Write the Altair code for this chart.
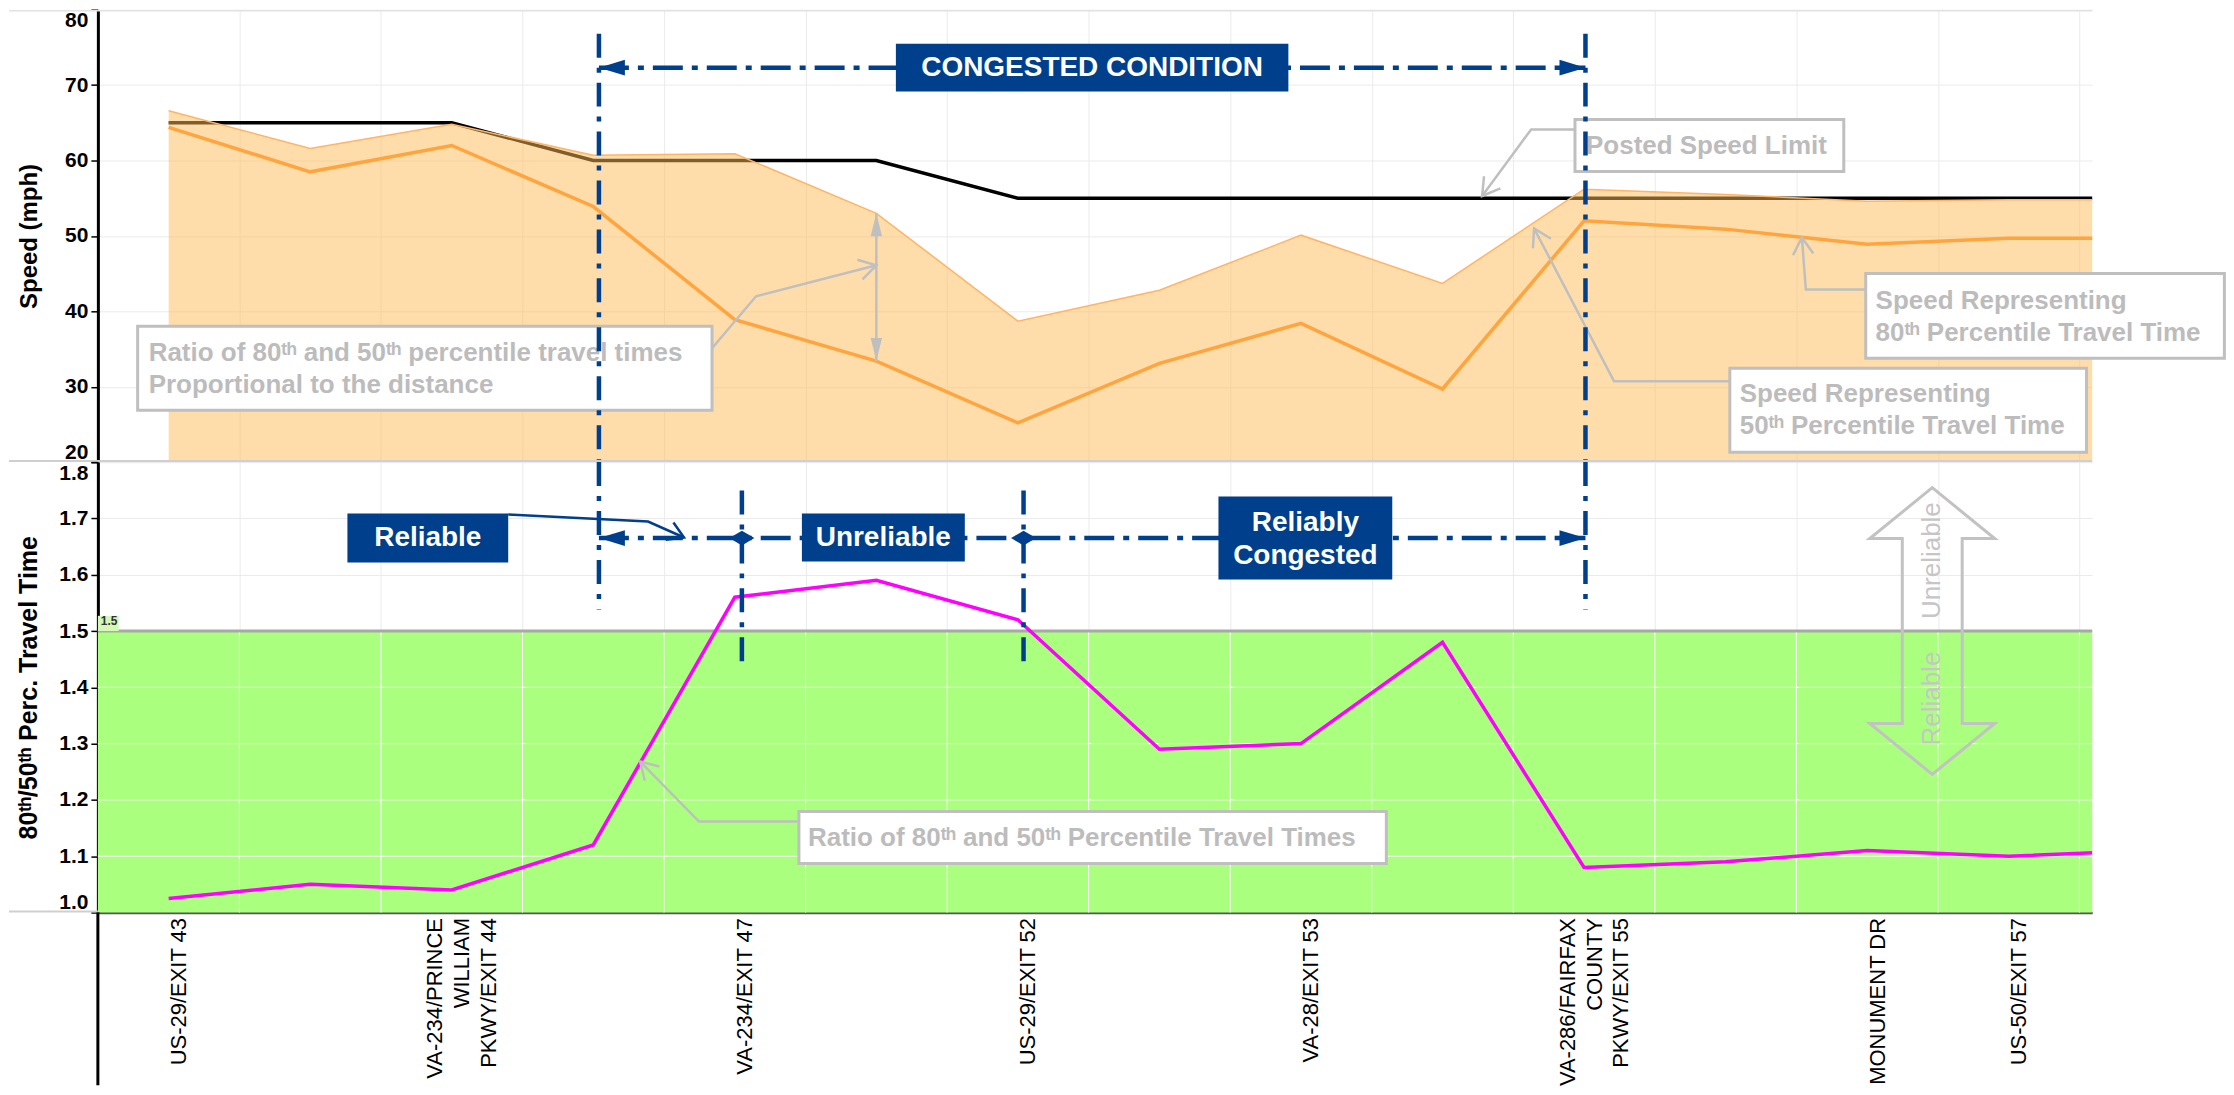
import json
import altair as alt
import pandas as pd

FONT = "Liberation Sans"
NAVY = "#003F8C"
NOTE_GRAY = "#BFBFBF"
NOTE_TEXT = "#BCBCBC"
GREEN = "#ABFF7F"

# ---------------- data ----------------
station_idx = list(range(15))
speed_limit = [65, 65, 65, 60, 60, 60, 55, 55, 55, 55, 55, 55, 55, 55, 55]
speed_p50 = [66.6, 61.6, 64.8, 60.7, 60.9, 53.0, 38.7, 42.8, 50.1, 43.7, 56.2, 55.5, 54.6, 54.8, 54.8]
speed_p80 = [64.4, 58.5, 62.0, 53.9, 38.9, 33.4, 25.2, 33.1, 38.4, 29.7, 52.0, 50.9, 48.9, 49.7, 49.7]
tt_ratio = [1.025, 1.05, 1.04, 1.12, 1.56, 1.59, 1.52, 1.29, 1.30, 1.48, 1.08, 1.09, 1.11, 1.10, 1.11]

label_idx = [0, 2, 4, 6, 8, 10, 12, 13]
label_text = [
    ["US-29/EXIT 43"],
    ["VA-234/PRINCE", "WILLIAM", "PKWY/EXIT 44"],
    ["VA-234/EXIT 47"],
    ["US-29/EXIT 52"],
    ["VA-28/EXIT 53"],
    ["VA-286/FAIRFAX", "COUNTY", "PKWY/EXIT 55"],
    ["MONUMENT DR"],
    ["US-50/EXIT 57"],
]
speed_ticks = [20, 30, 40, 50, 60, 70, 80]
ratio_ticks = [1.0, 1.1, 1.2, 1.3, 1.4, 1.5, 1.6, 1.7, 1.8]
x_domain = [-0.5, 13.59]
reliable_limit = 1.5

# annotation anchors (data units)
congested_from, congested_to = 3.04, 10.01
regime_breaks = [4.05, 6.04]
congested_row_speed = 72.32
regime_row_ratio = 1.665
boundary_top_speed = 76.82
boundary_bottom_ratio = 1.538
break_top_ratio, break_bottom_ratio = 1.7496, 1.4387
spread_idx = 5

top_boxes = [
    {"x": -0.219, "x2": 3.839, "y": 38.01, "y2": 26.89},
    {"x": 9.936, "x2": 11.835, "y": 65.43, "y2": 58.54},
    {"x": 11.990, "x2": 14.524, "y": 45.03, "y2": 33.77},
    {"x": 11.03, "x2": 13.55, "y": 32.45, "y2": 21.32},
]
# y = centre of the first text line
top_notes = [
    {"x": -0.141, "y": 34.44, "lines": ["Ratio of 80ᵗʰ and 50ᵗʰ percentile travel times", "Proportional to the distance"]},
    {"x": 10.014, "y": 61.99, "lines": ["Posted Speed Limit"]},
    {"x": 12.06, "y": 41.32, "lines": ["Speed Representing", "80ᵗʰ Percentile Travel Time"]},
    {"x": 11.10, "y": 29.01, "lines": ["Speed Representing", "50ᵗʰ Percentile Travel Time"]},
]
top_connectors = [
    ("ratio", [(3.839, 35.1), (4.150, 41.99), (5.0, 46.1)], 345.5),
    ("limit", [(9.936, 64.11), (9.626, 64.11), (9.280, 55.3)], 126.4),
    ("p80", [(11.990, 42.91), (11.567, 42.91), (11.539, 49.8)], 265.6),
    ("p50", [(11.030, 30.73), (10.212, 30.73), (9.647, 50.99)], 242.4),
]
congested_box = [{"x": 5.138, "x2": 7.911, "y": 75.497, "y2": 69.139}]
congested_label = [{"x": 6.524, "y": congested_row_speed, "lines": ["CONGESTED CONDITION"]}]

bottom_box = [{"x": 4.453, "x2": 8.603, "y": 1.1794, "y2": 1.0870}]
bottom_note = [{"x": 4.517, "y": 1.1323, "lines": ["Ratio of 80ᵗʰ and 50ᵗʰ Percentile Travel Times"]}]
bottom_connectors = [("ratio_line", [(4.453, 1.1616), (3.747, 1.1616), (3.331, 1.2682)], 225.5)]
regime_boxes = [
    {"x": 1.263, "x2": 2.399, "y": 1.7087, "y2": 1.6217},
    {"x": 4.474, "x2": 5.625, "y": 1.7087, "y2": 1.6234},
    {"x": 7.417, "x2": 8.645, "y": 1.7389, "y2": 1.5915},
]
regime_labels = [
    {"x": 1.831, "y": regime_row_ratio, "lines": ["Reliable"]},
    {"x": 5.049, "y": regime_row_ratio, "lines": ["Unreliable"]},
    {"x": 8.031, "y": 1.6927, "lines": ["Reliably", "Congested"]},
]
reliable_connector = [("reliable", [(2.399, 1.7069), (3.387, 1.6945), (3.641, 1.6661)], 24.0)]
zone_arrow = {"x": 12.46, "y": reliable_limit}
zone_words = [
    {"x": 12.46, "y": 1.625, "w": "Unreliable"},
    {"x": 12.46, "y": 1.380, "w": "Reliable"},
]

# ---------------- frames ----------------
df = pd.DataFrame({
    "idx": station_idx,
    "speed_limit": speed_limit,
    "speed_p50": speed_p50,
    "speed_p80": speed_p80,
    "tt_ratio": tt_ratio,
})
df_spread = df.iloc[[spread_idx]]


def data(records):
    return alt.Data(values=records)


def connector_rows(conns):
    rows, tips = [], []
    for cid, path, ang in conns:
        for k, (x, y) in enumerate(path):
            rows.append({"id": cid, "k": k, "x": x, "y": y})
        tips.append({"x": path[-1][0], "y": path[-1][1], "ang": ang})
    return rows, tips


one = pd.DataFrame({"d": [0]})

# ---------------- scales & axes ----------------
xs = alt.Scale(domain=x_domain, nice=False, zero=False)
ys_top = alt.Scale(domain=[speed_ticks[0], speed_ticks[-1]], nice=False, zero=False)
ys_bot = alt.Scale(domain=[ratio_ticks[0], ratio_ticks[-1]], nice=False, zero=False)

grid_x = [i + 0.5 for i in station_idx[:-1]]
label_expr = " : ".join(
    f"datum.value === {p} ? {json.dumps(t)}" for p, t in zip(label_idx, label_text)
) + " : ''"
LABEL_LH = 27
LABEL_SHIFT = 10
multi_line_pos = [p for p, t in zip(label_idx, label_text) if len(t) > 1]
multi_line_n = max(len(t) for t in label_text)

x_axis_top = alt.Axis(values=grid_x, labels=False, ticks=False, domain=False,
                      grid=True, gridColor="#EBEBEB", gridWidth=1, title=None)
x_axis_bot = alt.Axis(
    values=sorted(grid_x + label_idx), labelExpr=label_expr, labelAngle=-90,
    labelFont=FONT, labelFontSize=22, labelColor="black", labelLineHeight=LABEL_LH,
    labelPadding=5,
    labelOffset={"condition": {"test": f"indexof({json.dumps(multi_line_pos)}, datum.value) >= 0",
                               "value": LABEL_SHIFT - (multi_line_n - 1) * LABEL_LH / 2},
                 "value": LABEL_SHIFT},
    labelOverlap=False, labelBound=False, labelFlush=False,
    ticks=False, grid=True, gridColor="#EBEBEB", gridWidth=1,
    gridOpacity={"condition": {"test": "datum.value % 1 != 0", "value": 1}, "value": 0},
    domainColor="#555555", domainWidth=2.5, title=None,
)
y_common = dict(
    labelFont=FONT, labelFontSize=21, labelFontWeight="bold", labelColor="black",
    labelFlush=True, labelPadding=3, tickSize=7, tickColor="black", tickWidth=1.5,
    domainColor="black", domainWidth=3, grid=True, gridColor="#EBEBEB",
    titleFont=FONT, titleFontWeight="bold", titleColor="black",
    titlePadding=10, minExtent=46, maxExtent=46,
)
y_axis_top = alt.Axis(values=speed_ticks, title="Speed (mph)", titleFontSize=24, **y_common)
y_axis_bot = alt.Axis(values=ratio_ticks, format=".1f", titleFontSize=25,
                      title="80ᵗʰ/50ᵗʰ Perc. Travel Time", **y_common)


def XT(f):
    return alt.X(f, type="quantitative", scale=xs, axis=x_axis_top)


def YT(f):
    return alt.Y(f, type="quantitative", scale=ys_top, axis=y_axis_top)


def XB(f):
    return alt.X(f, type="quantitative", scale=xs, axis=x_axis_bot)


def YB(f):
    return alt.Y(f, type="quantitative", scale=ys_bot, axis=y_axis_bot)


# symbol paths (tip at origin)
TRI_LEFT = "M0,0L2,-0.6L2,0.6Z"
TRI_RIGHT = "M0,0L-2,-0.6L-2,0.6Z"
TRI_UP = "M0,0L-0.5,2L0.5,2Z"
TRI_DOWN = "M0,0L-0.5,-2L0.5,-2Z"
CHEVRON = "M-1,-0.6L0,0L-1,0.6"
DIAMOND = "M-1,0L0,-0.6L1,0L0,0.6Z"
DOUBLE_ARROW = ("M0,-1L0.436,-0.645L0.209,-0.645L0.209,0.645L0.436,0.645L0,1"
                "L-0.436,0.645L-0.209,0.645L-0.209,-0.645L-0.436,-0.645Z")
DASHDOT_H = [30, 9, 6, 9]
DASHDOT_V = [24, 10, 5, 10]

# ---------------- top panel ----------------
tc_rows, tc_tips = connector_rows(top_connectors)
bounds_top = [{"x": v, "y": boundary_top_speed, "y2": speed_ticks[0]} for v in (congested_from, congested_to)]
row_top = [{"x": congested_from, "x2": congested_to, "y": congested_row_speed}]
heads_left_top = [{"x": congested_from, "y": congested_row_speed}]
heads_right_top = [{"x": congested_to, "y": congested_row_speed}]

top_layers = [
    alt.Chart(df).mark_line(color="black", strokeWidth=3.5, clip=True).encode(
        x=XT("idx"), y=YT("speed_limit")),
    alt.Chart(df).mark_area(color="#FFBB55", opacity=0.5, clip=True).encode(
        x=XT("idx"), y=YT("speed_p50"), y2=alt.datum(speed_ticks[0])),
    alt.Chart(df).mark_line(color="#FFB466", strokeWidth=1.5, clip=True).encode(
        x=XT("idx"), y=YT("speed_p50")),
    alt.Chart(df).mark_line(color="#FFA53F", strokeWidth=3.5, clip=True).encode(
        x=XT("idx"), y=YT("speed_p80")),
    alt.Chart(df_spread).mark_rule(color=NOTE_GRAY, strokeWidth=2.5).encode(
        x=XT("idx"), y=YT("speed_p50"), y2="speed_p80"),
    alt.Chart(df_spread).mark_point(shape=TRI_UP, filled=True, color=NOTE_GRAY, opacity=1, size=529).encode(
        x=XT("idx"), y=YT("speed_p50")),
    alt.Chart(df_spread).mark_point(shape=TRI_DOWN, filled=True, color=NOTE_GRAY, opacity=1, size=529).encode(
        x=XT("idx"), y=YT("speed_p80")),
    alt.Chart(data(top_boxes)).mark_rect(fill="white", stroke=NOTE_GRAY, strokeWidth=3).encode(
        x=XT("x:Q"), x2="x2:Q", y=YT("y:Q"), y2="y2:Q"),
    alt.Chart(data(tc_rows)).mark_line(color=NOTE_GRAY, strokeWidth=2.5).encode(
        x=XT("x:Q"), y=YT("y:Q"), detail="id:N", order="k:Q"),
    alt.Chart(data(tc_tips)).mark_point(shape=CHEVRON, filled=False, color=NOTE_GRAY, opacity=1,
                                        strokeWidth=2.5, size=1156).encode(
        x=XT("x:Q"), y=YT("y:Q"), angle=alt.Angle("ang:Q", scale=None)),
    alt.Chart(data(top_notes)).mark_text(align="left", baseline="middle", font=FONT, fontSize=26,
                                         fontWeight="bold", color=NOTE_TEXT, lineHeight=32).encode(
        x=XT("x:Q"), y=YT("y:Q"), text="lines:N"),
    alt.Chart(data(bounds_top)).mark_rule(color=NAVY, strokeWidth=4.5, strokeDash=DASHDOT_V).encode(
        x=XT("x:Q"), y=YT("y:Q"), y2="y2:Q"),
    alt.Chart(data(row_top)).mark_rule(color=NAVY, strokeWidth=4.5, strokeDash=DASHDOT_H).encode(
        x=XT("x:Q"), x2="x2:Q", y=YT("y:Q")),
    alt.Chart(data(heads_left_top)).mark_point(shape=TRI_LEFT, filled=True, color=NAVY, opacity=1, size=676).encode(
        x=XT("x:Q"), y=YT("y:Q")),
    alt.Chart(data(heads_right_top)).mark_point(shape=TRI_RIGHT, filled=True, color=NAVY, opacity=1, size=676).encode(
        x=XT("x:Q"), y=YT("y:Q")),
    alt.Chart(data(congested_box)).mark_rect(fill=NAVY).encode(
        x=XT("x:Q"), x2="x2:Q", y=YT("y:Q"), y2="y2:Q"),
    alt.Chart(data(congested_label)).mark_text(align="center", baseline="middle", font=FONT, fontSize=28,
                                               fontWeight="bold", color="white").encode(
        x=XT("x:Q"), y=YT("y:Q"), text="lines:N"),
    # pane borders
    alt.Chart(one).mark_rule(color="#E2E2E2", strokeWidth=1.5).encode(
        x=alt.value(-89), x2=alt.value("width"), y=alt.value(1)),
    alt.Chart(one).mark_rule(color="#CFCFCF", strokeWidth=2).encode(
        x=alt.value(-89), x2=alt.value("width"), y=alt.value(452)),
]
top = alt.layer(*top_layers).properties(width=1997, height=453)

# ---------------- bottom panel ----------------
zone = [{"lo": ratio_ticks[0], "hi": reliable_limit}]
zone_vgrid = [{"x": g, "lo": ratio_ticks[0], "hi": reliable_limit} for g in grid_x]
zone_hgrid = [{"t": t} for t in ratio_ticks if ratio_ticks[0] < t < reliable_limit]
limit_row = [{"t": reliable_limit}]
limit_tag_bg = [{"x": x_domain[0], "x2": x_domain[0] + 0.147, "y": reliable_limit, "y2": reliable_limit + 0.027}]
limit_tag = [{"x": x_domain[0], "y": reliable_limit, "s": f"{reliable_limit:.1f}"}]
bc_rows, bc_tips = connector_rows(bottom_connectors)
rc_rows, rc_tips = connector_rows(reliable_connector)
bounds_bot = [{"x": v, "y": ratio_ticks[-1], "y2": boundary_bottom_ratio} for v in (congested_from, congested_to)]
breaks_bot = [{"x": v, "y": break_top_ratio, "y2": break_bottom_ratio} for v in regime_breaks]
row_bot = [{"x": congested_from, "x2": congested_to, "y": regime_row_ratio}]
diamonds = [{"x": v, "y": regime_row_ratio} for v in regime_breaks]

bottom_layers = [
    alt.Chart(data(zone)).mark_rect(color=GREEN).encode(
        x=alt.value(0), x2=alt.value("width"), y=YB("lo:Q"), y2="hi:Q"),
    alt.Chart(data(zone_vgrid)).mark_rule(color="white", strokeWidth=1).encode(
        x=XB("x:Q"), y=YB("lo:Q"), y2="hi:Q"),
    alt.Chart(data(zone_hgrid)).mark_rule(color="white", strokeWidth=1).encode(
        y=YB("t:Q"), x=alt.value(0), x2=alt.value("width")),
    alt.Chart(data(limit_row)).mark_rule(color="#A8A8A8", strokeWidth=3).encode(
        y=YB("t:Q"), x=alt.value(0), x2=alt.value("width")),
    alt.Chart(data(limit_tag_bg)).mark_rect(color="#D5F7B8").encode(
        x=XB("x:Q"), x2="x2:Q", y=YB("y:Q"), y2="y2:Q"),
    alt.Chart(data(limit_tag)).mark_text(align="left", baseline="bottom", dx=3, dy=-3, font=FONT,
                                         fontSize=12, fontWeight="bold", color="#333333").encode(
        x=XB("x:Q"), y=YB("y:Q"), text="s:N"),
    alt.Chart(df).mark_line(color="#FF00FF", strokeWidth=3.5, clip=True).encode(
        x=XB("idx"), y=YB("tt_ratio")),
    alt.Chart(data([zone_arrow])).mark_point(shape=DOUBLE_ARROW, filled=False, color="#C2C2C2", opacity=1,
                                             strokeWidth=3, size=82369).encode(
        x=XB("x:Q"), y=YB("y:Q")),
    alt.Chart(data(zone_words)).mark_text(angle=270, align="center", baseline="middle", font=FONT,
                                          fontSize=26, color="#C6C6C6").encode(
        x=XB("x:Q"), y=YB("y:Q"), text="w:N"),
    alt.Chart(data(bottom_box)).mark_rect(fill="white", stroke=NOTE_GRAY, strokeWidth=3).encode(
        x=XB("x:Q"), x2="x2:Q", y=YB("y:Q"), y2="y2:Q"),
    alt.Chart(data(bc_rows)).mark_line(color=NOTE_GRAY, strokeWidth=2.5).encode(
        x=XB("x:Q"), y=YB("y:Q"), detail="id:N", order="k:Q"),
    alt.Chart(data(bc_tips)).mark_point(shape=CHEVRON, filled=False, color=NOTE_GRAY, opacity=1,
                                        strokeWidth=2.5, size=1156).encode(
        x=XB("x:Q"), y=YB("y:Q"), angle=alt.Angle("ang:Q", scale=None)),
    alt.Chart(data(bottom_note)).mark_text(align="left", baseline="middle", font=FONT, fontSize=26,
                                           fontWeight="bold", color=NOTE_TEXT).encode(
        x=XB("x:Q"), y=YB("y:Q"), text="lines:N"),
    alt.Chart(data(bounds_bot)).mark_rule(color=NAVY, strokeWidth=4.5, strokeDash=DASHDOT_V).encode(
        x=XB("x:Q"), y=YB("y:Q"), y2="y2:Q"),
    alt.Chart(data(breaks_bot)).mark_rule(color=NAVY, strokeWidth=4.5, strokeDash=DASHDOT_V).encode(
        x=XB("x:Q"), y=YB("y:Q"), y2="y2:Q"),
    alt.Chart(data(row_bot)).mark_rule(color=NAVY, strokeWidth=4.5, strokeDash=DASHDOT_H).encode(
        x=XB("x:Q"), x2="x2:Q", y=YB("y:Q")),
    alt.Chart(data([{"x": congested_from, "y": regime_row_ratio}])).mark_point(
        shape=TRI_LEFT, filled=True, color=NAVY, opacity=1, size=676).encode(x=XB("x:Q"), y=YB("y:Q")),
    alt.Chart(data([{"x": congested_to, "y": regime_row_ratio}])).mark_point(
        shape=TRI_RIGHT, filled=True, color=NAVY, opacity=1, size=676).encode(x=XB("x:Q"), y=YB("y:Q")),
    alt.Chart(data(diamonds)).mark_point(shape=DIAMOND, filled=True, color=NAVY, opacity=1, size=625).encode(
        x=XB("x:Q"), y=YB("y:Q")),
    alt.Chart(data(rc_rows)).mark_line(color=NAVY, strokeWidth=2.5).encode(
        x=XB("x:Q"), y=YB("y:Q"), detail="id:N", order="k:Q"),
    alt.Chart(data(rc_tips)).mark_point(shape=CHEVRON, filled=False, color=NAVY, opacity=1,
                                        strokeWidth=2.5, size=1000).encode(
        x=XB("x:Q"), y=YB("y:Q"), angle=alt.Angle("ang:Q", scale=None)),
    alt.Chart(data(regime_boxes)).mark_rect(fill=NAVY).encode(
        x=XB("x:Q"), x2="x2:Q", y=YB("y:Q"), y2="y2:Q"),
    alt.Chart(data(regime_labels)).mark_text(align="center", baseline="middle", font=FONT, fontSize=28,
                                             fontWeight="bold", color="white", lineHeight=34).encode(
        x=XB("x:Q"), y=YB("y:Q"), text="lines:N"),
    # pane border to the left and row-header divider
    alt.Chart(one).mark_rule(color="#CFCFCF", strokeWidth=2).encode(
        x=alt.value(-89), x2=alt.value(0), y=alt.value(450)),
    alt.Chart(one).mark_rule(color="black", strokeWidth=3).encode(
        x=alt.value(0), y=alt.value(451), y2=alt.value(624)),
]
bottom = alt.layer(*bottom_layers).properties(width=1997, height=451)

chart = alt.vconcat(top, bottom, spacing=0, bounds="flush").properties(
    padding={"left": 0, "top": 0, "right": 0, "bottom": 0}
).configure_view(stroke=None)

chart.save("out.html", embed_options={"renderer": "svg", "actions": False})
